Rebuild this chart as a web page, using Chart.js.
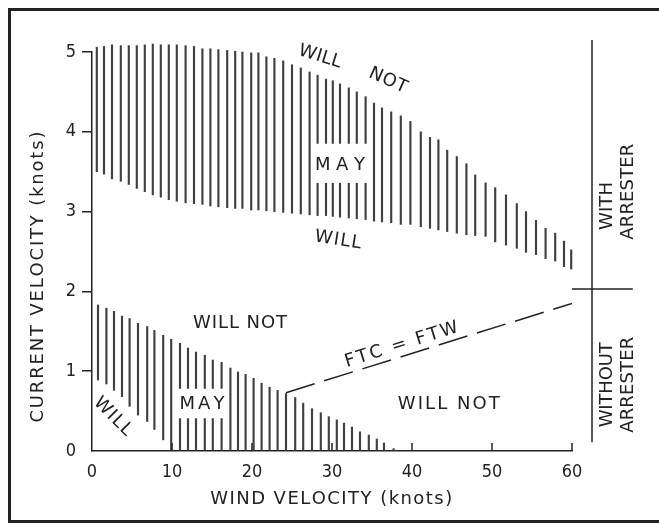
<!DOCTYPE html>
<html>
<head>
<meta charset="utf-8">
<script src="https://cdn.jsdelivr.net/npm/chart.js@4/dist/chart.umd.min.js"></script>
<style>
  html, body { margin: 0; padding: 0; background: #fff; }
  #wrap { position: relative; width: 659px; height: 525px; overflow: hidden; }
  #frame { position: absolute; left: 8px; top: 8px; width: 700px; height: 509px;
           border-left: 3px solid #222; border-top: 3px solid #222; border-bottom: 3px solid #222; }
  canvas { position: absolute; left: 0; top: 0; }
</style>
</head>
<body>
<div id="wrap">
  <div id="frame"></div>
  <canvas id="chart" width="659" height="525"></canvas>
</div>
<script>
// hatch lines of the upper band (with arrester), knots / knots
const upperWind = [0.6, 1.5, 2.5, 3.6, 4.6, 5.6, 6.6, 7.6, 8.6, 9.6, 10.6, 11.7, 12.75, 13.8, 14.8, 15.8, 16.9, 17.9, 18.8, 19.9,
  20.8, 21.8, 22.8, 23.9, 25.0, 26.1, 27.2, 28.2, 29.25, 30.1, 31.0, 32.1, 33.1, 34.2, 35.25, 36.25, 37.4, 38.6,
  39.8, 41.1, 42.25, 43.3, 44.4, 45.6, 46.8, 47.9, 49.2, 50.4, 51.75, 53.1, 54.25, 55.5, 56.7, 57.9, 59.0, 59.9];
const upperHigh = [5.06, 5.07, 5.09, 5.08, 5.08, 5.08, 5.09, 5.10, 5.09, 5.09, 5.09, 5.08, 5.07, 5.04, 5.04, 5.03, 5.02, 5.01, 5.00, 4.99,
  4.99, 4.94, 4.92, 4.89, 4.84, 4.80, 4.75, 4.71, 4.66, 4.64, 4.60, 4.55, 4.50, 4.44, 4.36, 4.30, 4.25, 4.20,
  4.13, 4.00, 3.93, 3.90, 3.77, 3.69, 3.60, 3.46, 3.36, 3.30, 3.21, 3.10, 3.00, 2.89, 2.79, 2.73, 2.63, 2.52];
const upperLow = [3.50, 3.47, 3.41, 3.38, 3.34, 3.29, 3.25, 3.21, 3.18, 3.15, 3.13, 3.11, 3.10, 3.09, 3.07, 3.06, 3.05, 3.04, 3.04, 3.02,
  3.02, 3.01, 3.00, 2.99, 2.98, 2.97, 2.96, 2.95, 2.95, 2.94, 2.93, 2.92, 2.91, 2.90, 2.88, 2.87, 2.86, 2.84,
  2.84, 2.81, 2.79, 2.77, 2.75, 2.73, 2.71, 2.70, 2.69, 2.62, 2.58, 2.54, 2.49, 2.46, 2.41, 2.38, 2.31, 2.28];

// hatch lines of the lower band (without arrester)
const lowerWind = [0.75, 1.8, 2.75, 3.75, 4.7, 5.75, 6.9, 7.8, 8.9, 9.9, 11, 12, 13, 14.1, 15.1, 16.2, 17.3, 18.25, 19.2, 20.2,
  21.2, 22.2, 23.2, 24.25, 25.4, 26.4, 27.5, 28.6, 29.6, 30.6, 31.5, 32.5, 33.5, 34.6, 35.6, 36.5, 37.7];
const lowerHigh = [1.83, 1.79, 1.75, 1.69, 1.66, 1.60, 1.56, 1.51, 1.45, 1.40, 1.35, 1.29, 1.24, 1.20, 1.14, 1.11, 1.04, 0.99, 0.96, 0.91,
  0.85, 0.80, 0.76, 0.72, 0.67, 0.60, 0.53, 0.48, 0.43, 0.39, 0.35, 0.30, 0.24, 0.20, 0.15, 0.10, 0.03];
const lowerLow = [0.89, 0.84, 0.76, 0.68, 0.56, 0.45, 0.37, 0.27, 0.14, 0, 0, 0, 0, 0, 0, 0, 0, 0, 0, 0,
  0, 0, 0, 0, 0, 0, 0, 0, 0, 0, 0, 0, 0, 0, 0, 0, 0];

// FTC = FTW boundary
const ftcWind = [24.25, 60];
const ftcCurrent = [0.73, 1.85];

const xTicks = [0, 10, 20, 30, 40, 50, 60];
const yTicks = [0, 1, 2, 3, 4, 5];

const INK = '#222';
const HATCH = '#404040';
const FONT = '"DejaVu Sans", sans-serif';
const TICK_FONT = '"DejaVu Sans Condensed", "DejaVu Sans", sans-serif';

// text notes, in axis units; w = drawn width in px
const notes = [
  { text: 'WILL', x: 28.5, y: 4.94, rot: 17, w: 44 },
  { text: 'NOT', x: 37.0, y: 4.64, rot: 24, w: 40 },
  { text: 'MAY', x: 31.0, y: 3.58, rot: 0, w: 50 },
  { text: 'WILL', x: 30.75, y: 2.64, rot: 9, w: 47 },
  { text: 'WILL NOT', x: 18.5, y: 1.60, rot: 0, w: 94 },
  { text: 'MAY', x: 13.75, y: 0.59, rot: 0, w: 45 },
  { text: 'WILL', x: 2.6, y: 0.43, rot: 45, w: 47 },
  { text: 'WILL NOT', x: 44.6, y: 0.59, rot: 0, w: 102 },
  { text: 'FTC = FTW', x: 38.7, y: 1.33, rot: -17.4, w: 118 },
  { text: 'WITH', x: 64.4, y: 3.07, rot: -90, w: 48 },
  { text: 'ARRESTER', x: 67.0, y: 3.25, rot: -90, w: 96 },
  { text: 'WITHOUT', x: 64.4, y: 0.83, rot: -90, w: 85 },
  { text: 'ARRESTER', x: 67.0, y: 0.83, rot: -90, w: 96 },
  { text: 'WIND VELOCITY (knots)', x: 29.9, y: -0.61, rot: 0, w: 242 },
  { text: 'CURRENT VELOCITY (knots)', x: -6.75, y: 2.18, rot: -90, w: 291 }
];
// where the hatching is broken for a label
const gaps = [
  { x0: 27.7, x1: 34.7, y0: 3.36, y1: 3.85 },
  { x0: 10.5, x1: 16.7, y0: 0.41, y1: 0.78 }
];

function bars(xs, lo, hi) {
  return xs.map((x, i) => ({ x: x, y: [lo[i], hi[i]] }));
}

function spacedText(ctx, text, cx, cy, rot, width) {
  ctx.save();
  ctx.translate(cx, cy);
  ctx.rotate(rot * Math.PI / 180);
  const chars = [...text];
  const ws = chars.map(c => ctx.measureText(c).width);
  const total = ws.reduce((a, b) => a + b, 0);
  const gap = chars.length > 1 ? (width - total) / (chars.length - 1) : 0;
  let x = -width / 2;
  chars.forEach((c, i) => { ctx.fillText(c, x, 0); x += ws[i] + gap; });
  ctx.restore();
}

const sketch = {
  id: 'sketch',
  afterDatasetsDraw(chart) {
    const ctx = chart.ctx;
    const xs = chart.scales.x, ys = chart.scales.y;
    const px = v => xs.getPixelForValue(v), py = v => ys.getPixelForValue(v);
    ctx.save();

    ctx.fillStyle = '#fff';
    gaps.forEach(g => {
      ctx.fillRect(px(g.x0), py(g.y1), px(g.x1) - px(g.x0), py(g.y0) - py(g.y1));
    });

    ctx.strokeStyle = INK;
    ctx.lineWidth = 1.5;
    // inward ticks on the wind axis
    const bottom = chart.chartArea.bottom;
    xTicks.forEach(v => {
      if (v === 0) return;
      ctx.beginPath();
      ctx.moveTo(px(v), bottom);
      ctx.lineTo(px(v), bottom - 8);
      ctx.stroke();
    });
    // with / without arrester divider
    ctx.beginPath();
    ctx.moveTo(px(62.5), py(5.15));
    ctx.lineTo(px(62.5), py(0.11));
    ctx.moveTo(px(60), py(2.03));
    ctx.lineTo(px(67.6), py(2.03));
    ctx.stroke();

    ctx.fillStyle = INK;
    ctx.font = '18px ' + FONT;
    ctx.textBaseline = 'middle';
    ctx.textAlign = 'left';
    notes.forEach(n => spacedText(ctx, n.text, px(n.x), py(n.y), n.rot, n.w));
    ctx.restore();
  }
};

new Chart(document.getElementById('chart'), {
  type: 'bar',
  data: {
    datasets: [
      { data: bars(upperWind, upperLow, upperHigh), backgroundColor: HATCH, borderWidth: 0,
        barThickness: 1.5, grouped: false, clip: false },
      { data: bars(lowerWind, lowerLow, lowerHigh), backgroundColor: HATCH, borderWidth: 0,
        barThickness: 1.5, grouped: false, clip: false },
      { type: 'line', data: ftcWind.map((x, i) => ({ x: x, y: ftcCurrent[i] })),
        borderColor: INK, borderWidth: 1.5, borderDash: [30, 10], pointRadius: 0, fill: false }
    ]
  },
  options: {
    responsive: false,
    animation: false,
    layout: { padding: { left: 0, top: 52, right: 87, bottom: 0 } },
    plugins: { legend: { display: false }, tooltip: { enabled: false } },
    scales: {
      x: {
        type: 'linear', min: 0, max: 60, offset: false,
        afterBuildTicks: s => { s.ticks = xTicks.map(v => ({ value: v })); },
        afterFit: s => { s.height = 74; },
        grid: { display: false, offset: false },
        border: { display: true, color: INK, width: 1.5 },
        ticks: { color: INK, font: { family: TICK_FONT, size: 18 }, padding: 3, maxRotation: 0 }
      },
      y: {
        type: 'linear', min: 0, max: 5,
        afterBuildTicks: s => { s.ticks = yTicks.map(v => ({ value: v })); },
        afterFit: s => { s.width = 92; },
        grid: { drawOnChartArea: false, drawTicks: true, tickLength: 10, lineWidth: 1.5,
                color: c => (c.tick && c.tick.value === 0) ? 'rgba(0,0,0,0)' : INK },
        border: { display: true, color: INK, width: 1.5 },
        ticks: { color: INK, font: { family: TICK_FONT, size: 18 }, padding: 6 }
      }
    }
  },
  plugins: [sketch]
});
</script>
</body>
</html>
